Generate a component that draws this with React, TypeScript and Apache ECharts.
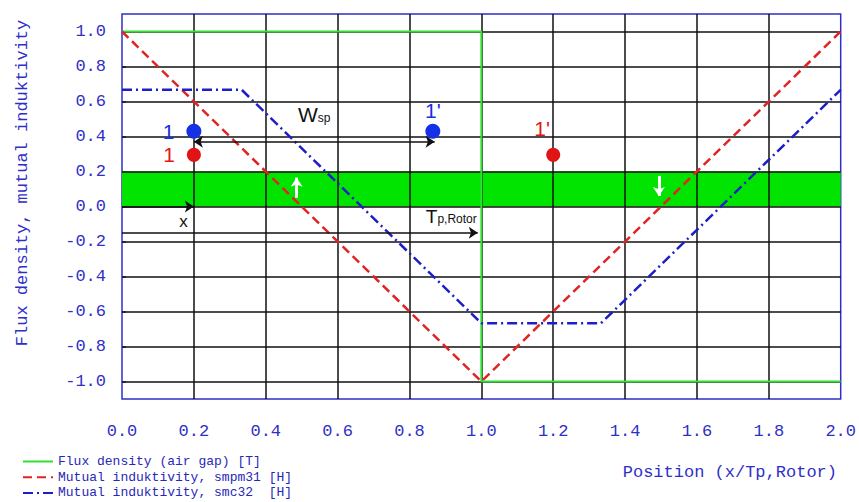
import React, { useEffect, useRef } from "react";
import * as echarts from "echarts";

const xTicks = [0, 0.2, 0.4, 0.6, 0.8, 1.0, 1.2, 1.4, 1.6, 1.8, 2.0];
const yTicks = [-1.0, -0.8, -0.6, -0.4, -0.2, 0, 0.2, 0.4, 0.6, 0.8, 1.0];
const fluxDensity = [[0, 1], [1, 1], [1, -1], [2, -1]];
const smpm31 = [[0, 1], [1, -1], [2, 1]];
const smc32 = [[0, 0.667], [0.333, 0.667], [1, -0.667], [1.333, -0.667], [2, 0.667]];
const band = [0, 0.2];
const bluePoints = [{ name: "1", value: [0.2, 0.43] }, { name: "1'", value: [0.865, 0.43] }];
const redPoints = [{ name: "1", value: [0.2, 0.295] }, { name: "1'", value: [1.2, 0.295] }];
const wspArrow = [[0.2, 0.37], [0.87, 0.37]];
const xArrow = [[0, 0], [0.2, 0]];
const tpArrow = [[0, -0.15], [0.99, -0.15]];
const upArrow = [[0.486, 0.05], [0.486, 0.165]];
const downArrow = [[1.494, 0.175], [1.494, 0.06]];
const seriesNames = [
  "Flux density (air gap) [T]",
  "Mutual induktivity, smpm31 [H]",
  "Mutual induktivity, smc32  [H]",
];

const AXIS_BLUE = "#2f2fc8";
const MONO = "'Liberation Mono', 'DejaVu Sans Mono', monospace";
const SANS = "'Liberation Sans', Arial, sans-serif";

export default function App() {
  const ref = useRef<HTMLDivElement>(null);
  useEffect(() => {
    document.body.style.margin = "0";
    const chart = echarts.init(ref.current!, null, { renderer: "svg" });
    const option: any = {
      animation: false,
      backgroundColor: "#ffffff",
      grid: {
        left: 122,
        right: 18,
        top: 14,
        bottom: 103,
        show: true,
        borderColor: AXIS_BLUE,
        borderWidth: 1.5,
      },
      xAxis: {
        type: "value",
        min: 0,
        max: 2,
        interval: 0.2,
        axisLine: { show: false },
        axisTick: { show: false },
        splitLine: { show: false },
        axisLabel: {
          margin: 24,
          color: AXIS_BLUE,
          fontFamily: MONO,
          fontSize: 17,
          formatter: (v: number) => v.toFixed(1),
        },
      },
      yAxis: {
        type: "value",
        min: -1.1,
        max: 1.1,
        axisLine: { show: false },
        axisTick: {
          show: true,
          inside: true,
          length: 4,
          customValues: yTicks,
          lineStyle: { color: AXIS_BLUE, width: 1.5 },
        },
        splitLine: { show: false },
        axisLabel: {
          customValues: yTicks,
          margin: 16,
          color: AXIS_BLUE,
          fontFamily: MONO,
          fontSize: 17,
          formatter: (v: number) => v.toFixed(1),
        },
      },
      legend: {
        orient: "vertical",
        left: 22,
        top: 455,
        height: 80,
        padding: 0,
        itemWidth: 30,
        itemHeight: 14,
        itemGap: 2.7,
        data: seriesNames,
        itemStyle: { opacity: 0 },
        textStyle: { color: "#2828b8", fontFamily: MONO, fontSize: 13 },
      },
      graphic: [
        {
          type: "text",
          x: 22,
          y: 183,
          rotation: Math.PI / 2,
          style: {
            text: "Flux density, mutual induktivity",
            fill: AXIS_BLUE,
            font: `17px ${MONO}`,
            align: "center",
            verticalAlign: "middle",
          },
        },
        {
          type: "text",
          x: 837,
          y: 472,
          style: {
            text: "Position (x/Tp,Rotor)",
            fill: AXIS_BLUE,
            font: `17px ${MONO}`,
            align: "right",
            verticalAlign: "middle",
          },
        },
      ],
      series: [
        {
          type: "line",
          name: "band",
          data: [],
          z: 1,
          markArea: {
            silent: true,
            z: 1,
            itemStyle: { color: "#00e400" },
            data: [[{ yAxis: band[0] }, { yAxis: band[1] }]],
          },
        },
        {
          type: "line",
          name: "gridlines",
          data: [],
          markLine: {
            silent: true,
            z: 2,
            symbol: ["none", "none"],
            label: { show: false },
            lineStyle: { color: "#111111", width: 1.5, type: "solid" },
            data: [
              ...xTicks.filter((v) => v > 0 && v < 2).map((v) => ({ xAxis: v })),
              ...yTicks.map((v) => ({ yAxis: v })),
            ],
          },
        },
        {
          type: "line",
          name: seriesNames[0],
          data: fluxDensity,
          symbol: "none",
          z: 3,
          color: "#33dd33",
          lineStyle: { color: "#33dd33", width: 2 },
        },
        {
          type: "line",
          name: seriesNames[1],
          data: smpm31,
          symbol: "none",
          z: 3,
          color: "#e02424",
          lineStyle: { color: "#e02424", width: 2.5, type: [9, 5] },
        },
        {
          type: "line",
          name: seriesNames[2],
          data: smc32,
          symbol: "none",
          z: 3,
          color: "#1e1ec8",
          lineStyle: { color: "#1e1ec8", width: 2.5, type: [10, 4, 2, 4] },
        },
        {
          type: "line",
          name: "arrows",
          data: [],
          markLine: {
            silent: true,
            z: 6,
            symbolSize: 9,
            data: [
              [
                {
                  coord: wspArrow[0],
                  symbol: "arrow",
                  lineStyle: { color: "#111", width: 1.5, type: "solid" },
                  label: {
                    show: true,
                    position: "middle",
                    distance: 10,
                    formatter: "{w|W}{s|sp}",
                    rich: {
                      w: { fontSize: 21, fontFamily: SANS, color: "#111", padding: [0, 0, 7, 0] },
                      s: { fontSize: 12, fontFamily: SANS, color: "#111" },
                    },
                  },
                },
                { coord: wspArrow[1], symbol: "arrow" },
              ],
              [
                {
                  coord: xArrow[0],
                  symbol: "none",
                  lineStyle: { color: "#111", width: 1.5, type: "solid" },
                  label: {
                    show: true,
                    position: "insideEndBottom",
                    distance: 6,
                    formatter: "x",
                    color: "#111",
                    fontSize: 17,
                    fontFamily: SANS,
                  },
                },
                { coord: xArrow[1], symbol: "arrow" },
              ],
              [
                {
                  coord: tpArrow[0],
                  symbol: "none",
                  lineStyle: { color: "#111", width: 1.5, type: "solid" },
                  label: {
                    show: true,
                    position: "insideEndTop",
                    distance: 1,
                    formatter: "{t|T}{s|p,Rotor}",
                    rich: {
                      t: { fontSize: 19, fontFamily: SANS, color: "#111", padding: [0, 0, 6, 0] },
                      s: { fontSize: 12, fontFamily: SANS, color: "#111" },
                    },
                  },
                },
                { coord: tpArrow[1], symbol: "arrow" },
              ],
              [
                {
                  coord: upArrow[0],
                  symbol: "none",
                  lineStyle: { color: "#ffffff", width: 3, type: "solid" },
                  label: { show: false },
                },
                { coord: upArrow[1], symbol: "arrow" },
              ],
              [
                {
                  coord: downArrow[0],
                  symbol: "none",
                  lineStyle: { color: "#ffffff", width: 3, type: "solid" },
                  label: { show: false },
                },
                { coord: downArrow[1], symbol: "arrow" },
              ],
            ],
          },
        },
        {
          type: "scatter",
          name: "bluePts",
          z: 4,
          symbolSize: 15,
          itemStyle: { color: "#1530e6", opacity: 1 },
          data: bluePoints.map((p, i) => ({
            name: p.name,
            value: p.value,
            label: {
              show: true,
              formatter: "{b}",
              position: i === 0 ? "left" : "top",
              distance: i === 0 ? 12 : 3,
              color: "#1530e0",
              fontSize: 21,
              fontFamily: SANS,
            },
          })),
        },
        {
          type: "scatter",
          name: "redPts",
          z: 4,
          symbolSize: 14,
          itemStyle: { color: "#e01414", opacity: 1 },
          data: redPoints.map((p, i) => ({
            name: p.name,
            value: p.value,
            label: {
              show: true,
              formatter: "{b}",
              position: i === 0 ? "left" : "top",
              distance: i === 0 ? 12 : 4,
              offset: i === 0 ? [0, 0] : [-11, -5],
              color: "#e01818",
              fontSize: 21,
              fontFamily: SANS,
            },
          })),
        },
      ],
    };
    chart.setOption(option);
    return () => chart.dispose();
  }, []);
  return (
    <div
      ref={ref}
      style={{ position: "fixed", left: 0, top: 0, width: 859, height: 502 }}
    />
  );
}
